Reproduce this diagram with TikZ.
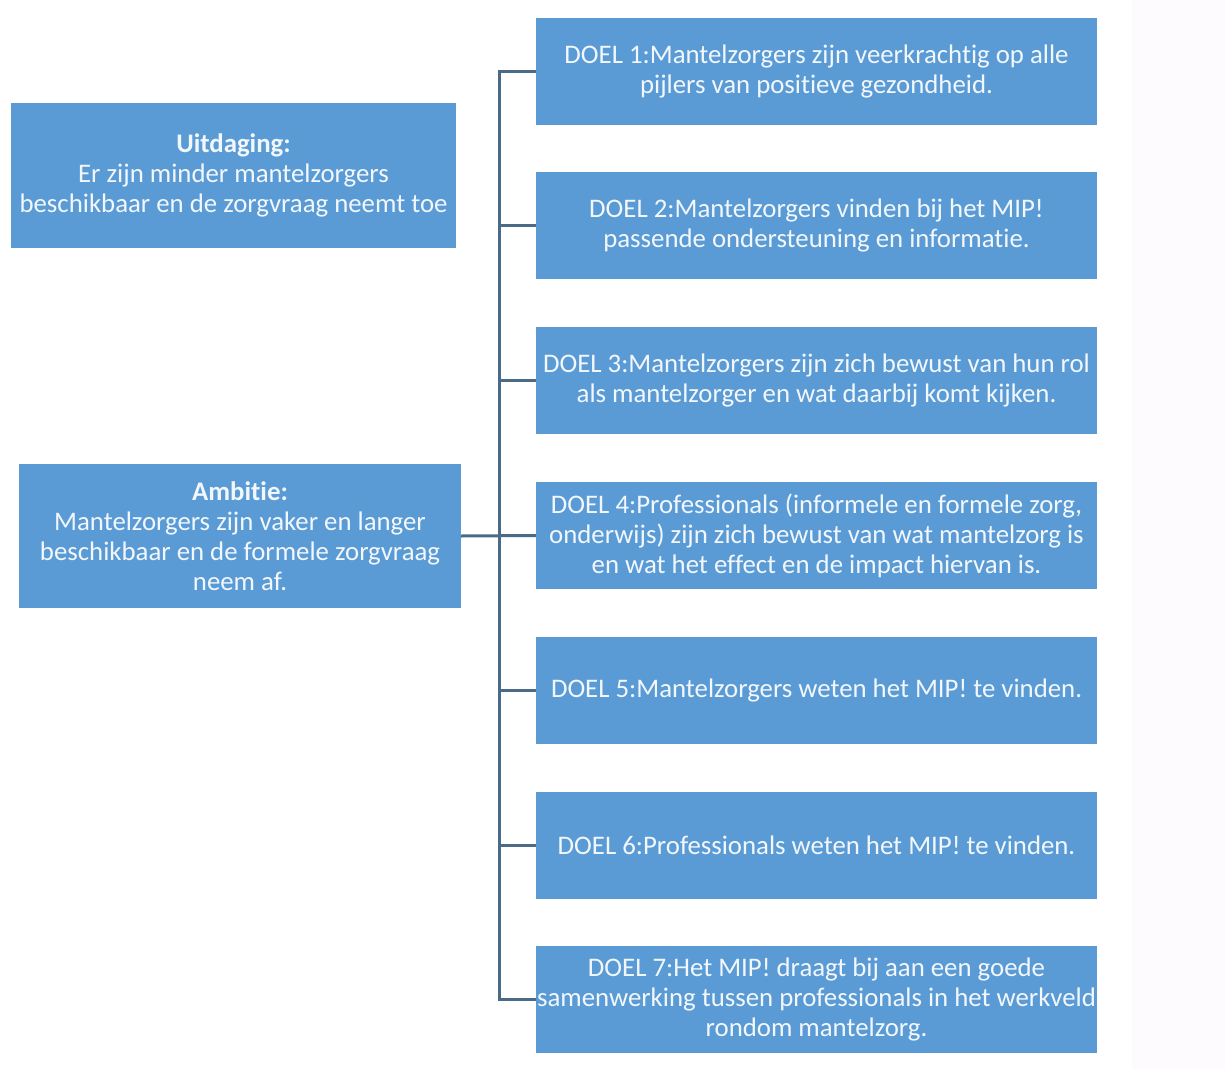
\documentclass[tikz,border=0pt]{standalone}
\usepackage{fontspec}
\setmainfont{Carlito}[RawFeature=-liga]
\usepackage{tikz}
\usetikzlibrary{positioning}
\definecolor{boxblue}{HTML}{5B9BD5}
\definecolor{linkgray}{HTML}{4A6A88}
\definecolor{stripbg}{HTML}{FDFBFE}
\tikzset{doelbox/.style = {fill=boxblue, text=white!92!boxblue, align=center,
                           minimum width=561pt, minimum height=107pt,
                           inner sep=0pt, font=\fontsize{26.8}{30}\selectfont},
         leftbox/.style = {doelbox, minimum height=144pt},
         link/.style = {draw=linkgray, line width=3pt}}

\begin{document}
\begin{tikzpicture}[x=1pt, y=-1pt]
    \useasboundingbox (0, 0) rectangle (1225, 1070);
    \fill [white] (0, 0) rectangle (1132, 1070);
    \fill [stripbg] (1132, 0) rectangle (1225, 1070);
    \node [leftbox, minimum width=445pt] (uitdaging) at (233.5, 175.5)
      {\textbf{Uitdaging:}\\Er zijn minder mantelzorgers\\beschikbaar en de zorgvraag neemt toe};
    \node [leftbox, minimum width=442pt] (ambitie) at (240, 536)
      {\textbf{Ambitie:}\\Mantelzorgers zijn vaker en langer\\beschikbaar en de formele zorgvraag\\neem af.};
    \node [doelbox] (doel1) at (816.5, 71.5)
      {DOEL 1:Mantelzorgers zijn veerkrachtig op alle\\pijlers van positieve gezondheid.};
    \node [doelbox] (doel2) at (816.5, 225.5)
      {DOEL 2:Mantelzorgers vinden bij het MIP!\\passende ondersteuning en informatie.};
    \node [doelbox] (doel3) at (816.5, 380.5)
      {DOEL 3:Mantelzorgers zijn zich bewust van hun rol\\als mantelzorger en wat daarbij komt kijken.};
    \node [doelbox] (doel4) at (816.5, 535.5)
      {DOEL 4:Professionals (informele en formele zorg,\\onderwijs) zijn zich bewust van wat mantelzorg is\\en wat het effect en de impact hiervan is.};
    \node [doelbox] (doel5) at (816.5, 690.5)
      {DOEL 5:Mantelzorgers weten het MIP! te vinden.};
    \node [doelbox] (doel6) at (816.5, 845)
      {DOEL 6:Professionals weten het MIP! te vinden.};
    \node [doelbox] (doel7) at (816.5, 999.5)
      {DOEL 7:Het MIP! draagt bij aan een goede\\samenwerking tussen professionals in het werkveld\\rondom mantelzorg.};
    \coordinate (spine) at (499, 535.5);
    \draw [link] (ambitie.east) -- (doel4.west);
    \draw [link] (doel1.west) -- (doel1.west -| spine) -- (doel7.west -| spine) -- (doel7.west);
    \foreach \i in {2, 3, 5, 6}
      \draw [link] (doel\i.west -| spine) -- (doel\i.west);
  \end{tikzpicture}
\end{document}
